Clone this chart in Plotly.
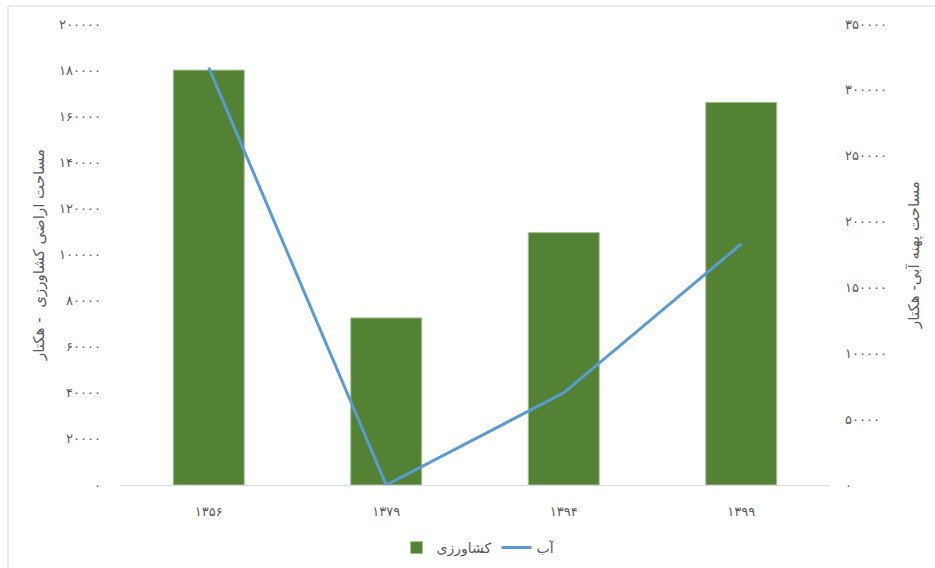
import plotly.graph_objects as go

# Years (Solar Hijri) and areas in hectares
years = ["۱۳۵۶", "۱۳۷۹", "۱۳۹۴", "۱۳۹۹"]
farmland_ha = [180000, 72500, 109500, 166000]
water_ha = [317000, 0, 70000, 183000]

left_ticks = [0, 20000, 40000, 60000, 80000, 100000, 120000, 140000, 160000, 180000, 200000]
right_ticks = [0, 50000, 100000, 150000, 200000, 250000, 300000, 350000]

PERSIAN_DIGITS = str.maketrans("0123456789", "۰۱۲۳۴۵۶۷۸۹")


def fa(n):
    return str(n).translate(PERSIAN_DIGITS)


FONT = "DejaVu Sans"
GREY = "#595959"

fig = go.Figure()
fig.add_trace(go.Bar(
    x=years, y=farmland_ha, name="کشاورزی",
    marker=dict(color="#548235", line=dict(color="#A9C199", width=1)),
    yaxis="y",
))
fig.add_trace(go.Scatter(
    x=years, y=water_ha, name="آب", mode="lines",
    line=dict(color="#5B9BD5", width=3),
    yaxis="y2",
))

W, H = 935, 568
L, R, T, B = 120, 105, 24, 83
pw, ph = W - L - R, H - T - B


def px_x(x):
    return (x - L) / pw


def px_y(y):
    return (H - B - y) / ph


fig.update_layout(
    width=W, height=H,
    margin=dict(l=L, r=R, t=T, b=B, autoexpand=False),
    paper_bgcolor="white", plot_bgcolor="white",
    font=dict(family=FONT, color=GREY, size=12),
    bargap=0.6,
    showlegend=True,
    legend=dict(
        orientation="h", x=0.505, xanchor="center",
        yref="container", y=1 - 548 / H, yanchor="middle",
        font=dict(size=14, color=GREY), itemwidth=30, traceorder="normal",
    ),
    xaxis=dict(
        type="category", showline=True, linecolor="#D9D9D9", linewidth=1,
        showgrid=False, ticks="", ticklabelstandoff=14, automargin=False,
        tickfont=dict(size=13, color=GREY),
    ),
    yaxis=dict(
        range=[0, 200000], tickvals=left_ticks, ticktext=[fa(v) for v in left_ticks],
        showgrid=False, zeroline=False, showline=False, ticks="", automargin=False,
        ticklabelstandoff=18, tickfont=dict(size=13, color=GREY),
        title=dict(text="مساحت اراضی کشاورزی  - هکتار", font=dict(size=15, color=GREY), standoff=10),
    ),
    yaxis2=dict(
        range=[0, 350000], tickvals=right_ticks, ticktext=[fa(v) for v in right_ticks],
        overlaying="y", side="right", automargin=False,
        showgrid=False, zeroline=False, showline=False, ticks="",
        ticklabelstandoff=14, tickfont=dict(size=13, color=GREY),
        title=dict(text="مساحت پهنه آبی- هکتار", font=dict(size=15, color=GREY), standoff=22),
    ),
    shapes=[
        dict(type="line", xref="paper", yref="paper",
             x0=px_x(8), x1=px_x(935), y0=px_y(6), y1=px_y(6),
             line=dict(color="#D9D9D9", width=1)),
        dict(type="line", xref="paper", yref="paper",
             x0=px_x(8), x1=px_x(8), y0=px_y(6), y1=px_y(568),
             line=dict(color="#D9D9D9", width=1)),
    ],
)

fig.write_html("out.html")
